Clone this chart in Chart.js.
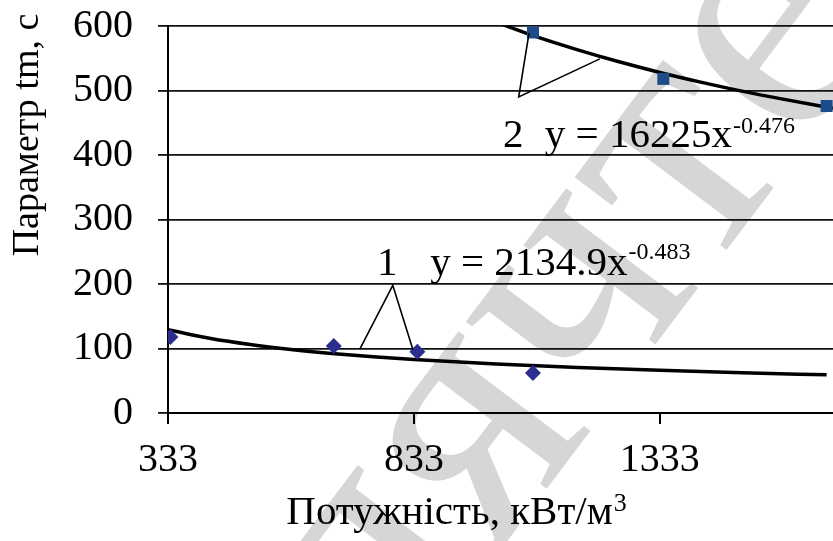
<!DOCTYPE html>
<html>
<head>
<meta charset="utf-8">
<script src="https://cdn.jsdelivr.net/npm/chart.js@4.4.1/dist/chart.umd.min.js"></script>
<style>
  html, body { margin: 0; padding: 0; background: #fff; }
</style>
</head>
<body>
<canvas id="chart" width="833" height="541"></canvas>
<script>
const powerSeries1 = [338, 670, 840, 1075];
const timeSeries1 = [118, 104, 95, 62];
const powerSeries2 = [1075, 1340, 1672];
const timeSeries2 = [590, 518, 476];

// Power trend curves
const trend1X = [333, 420, 500, 583, 666, 750, 833, 1000, 1166, 1333, 1500, 1672];
const trend1Y = [129, 115.4, 106.1, 98.5, 92.4, 87.3, 82.9, 75.9, 70.5, 66.1, 62.4, 59.2];
const trend2X = [1000, 1083, 1166, 1250, 1333, 1416, 1500, 1583, 1685];
const trend2Y = [606, 583, 563, 544.5, 528, 513, 499, 486.6, 472.5];

const xTicks = [333, 833, 1333];
const yTicks = [0, 100, 200, 300, 400, 500, 600];

const xTitle = 'Потужність, кВт/м';
const xTitleSup = '3';
const yTitle = 'Параметр tm, с';
const eq1 = { label: '1', main: 'y = 2134.9x', sup: '-0.483' };
const eq2 = { label: '2', main: 'y = 16225x', sup: '-0.476' };
const watermark = ['только для', 'чтения'];

const FONT = '"Liberation Serif", "Times New Roman", serif';
const tickFont = { family: FONT, size: 40 };

function toPoints(xs, ys) {
    return xs.map((x, i) => ({ x: x, y: ys[i] }));
}

function supText(ctx, x, y, main, sup, size, supSize, rise, align) {
    ctx.font = size + 'px ' + FONT;
    const w1 = ctx.measureText(main).width;
    ctx.font = supSize + 'px ' + FONT;
    const w2 = ctx.measureText(sup).width;
    const x0 = align === 'center' ? x - (w1 + w2) / 2 : x;
    ctx.textAlign = 'left';
    ctx.textBaseline = 'alphabetic';
    ctx.font = size + 'px ' + FONT;
    ctx.fillText(main, x0, y);
    ctx.font = supSize + 'px ' + FONT;
    ctx.fillText(sup, x0 + w1 + 1, y - rise);
}

// Grey diagonal stamp behind the chart
const stamp = {
    id: 'stamp',
    beforeDraw(chart) {
        const ctx = chart.ctx;
        ctx.save();
        ctx.fillStyle = '#d6d6d6';
        ctx.font = '360px ' + FONT;
        ctx.textAlign = 'left';
        ctx.textBaseline = 'alphabetic';
        const lead = ctx.measureText(watermark[0]).width;
        const half = ctx.measureText(watermark[1][0]).width / 2;
        ctx.translate(585, 305);
        ctx.rotate(-53 * Math.PI / 180);
        ctx.fillText(watermark[0] + watermark[1], -lead - half, 80);
        ctx.restore();
    }
};

// Labels, leader lines and axis titles
const annotations = {
    id: 'annotations',
    afterDraw(chart) {
        const { ctx, scales: { x, y } } = chart;
        const px = v => x.getPixelForValue(v);
        const py = v => y.getPixelForValue(v);
        ctx.save();
        ctx.fillStyle = '#000';
        ctx.strokeStyle = '#000';
        ctx.lineWidth = 1.6;

        // leader lines for curve 1
        ctx.beginPath();
        ctx.moveTo(px(723), py(99));
        ctx.lineTo(px(790), py(198));
        ctx.lineTo(px(831), py(98));
        ctx.stroke();

        // leader lines for curve 2
        ctx.beginPath();
        ctx.moveTo(px(1067), py(589));
        ctx.lineTo(px(1046), py(490));
        ctx.lineTo(px(1211), py(549));
        ctx.stroke();

        // equation labels
        ctx.textAlign = 'left';
        ctx.textBaseline = 'alphabetic';
        ctx.font = '41px ' + FONT;
        ctx.fillText(eq1.label, px(758), py(214));
        supText(ctx, px(866), py(214), eq1.main, eq1.sup, 41, 24, 16, 'left');
        ctx.font = '41px ' + FONT;
        ctx.fillText(eq2.label, px(1014), py(412));
        supText(ctx, px(1099), py(412), eq2.main, eq2.sup, 41, 24, 14, 'left');

        // x title
        supText(ctx, 456, 524, xTitle, xTitleSup, 41, 26, 13, 'center');

        // y title
        ctx.translate(38, 135);
        ctx.rotate(-Math.PI / 2);
        ctx.font = '38px ' + FONT;
        ctx.textAlign = 'center';
        ctx.textBaseline = 'alphabetic';
        ctx.fillText(yTitle, 0, 0);
        ctx.restore();
    }
};

function drawChart() {
    const ctx = document.getElementById('chart').getContext('2d');
    new Chart(ctx, {
        type: 'scatter',
        data: {
            datasets: [
                {
                    label: 'series 1',
                    data: toPoints(powerSeries1, timeSeries1),
                    pointStyle: 'rectRot',
                    pointRadius: 8,
                    backgroundColor: '#2b2e8f',
                    borderColor: '#2b2e8f',
                    borderWidth: 0
                },
                {
                    label: 'series 2',
                    data: toPoints(powerSeries2, timeSeries2),
                    pointStyle: 'rect',
                    pointRadius: 8.5,
                    backgroundColor: '#1c4c8a',
                    borderColor: '#1c4c8a',
                    borderWidth: 0
                },
                {
                    label: 'trend 1',
                    data: toPoints(trend1X, trend1Y),
                    showLine: true,
                    pointRadius: 0,
                    borderColor: '#000',
                    borderWidth: 3.5,
                    cubicInterpolationMode: 'monotone'
                },
                {
                    label: 'trend 2',
                    data: toPoints(trend2X, trend2Y),
                    showLine: true,
                    pointRadius: 0,
                    borderColor: '#000',
                    borderWidth: 3.5,
                    cubicInterpolationMode: 'monotone'
                }
            ]
        },
        options: {
            responsive: false,
            animation: false,
            devicePixelRatio: 1,
            layout: { padding: 0, autoPadding: false },
            plugins: {
                legend: { display: false },
                tooltip: { enabled: false }
            },
            scales: {
                x: {
                    type: 'linear',
                    min: 333,
                    max: 1685,
                    afterBuildTicks: axis => { axis.ticks = xTicks.map(v => ({ value: v })); },
                    afterFit: axis => {
                        axis.height = 128;
                        axis.paddingLeft = 0;
                        axis.paddingRight = 0;
                    },
                    ticks: {
                        font: tickFont,
                        color: '#000',
                        padding: 12,
                        maxRotation: 0,
                        autoSkip: false,
                        callback: v => String(v)
                    },
                    grid: { drawOnChartArea: false, drawTicks: true, tickLength: 11, color: '#000', lineWidth: 2 },
                    border: { display: true, color: '#000', width: 2 }
                },
                y: {
                    min: 0,
                    max: 600,
                    afterBuildTicks: axis => { axis.ticks = yTicks.map(v => ({ value: v })); },
                    afterFit: axis => {
                        axis.width = 168;
                        axis.paddingTop = 26;
                        axis.paddingBottom = 0;
                    },
                    ticks: {
                        font: tickFont,
                        color: '#000',
                        padding: 25,
                        callback: v => String(v)
                    },
                    grid: { color: '#111', lineWidth: 1.8, drawTicks: true, tickLength: 10 },
                    border: { display: true, color: '#000', width: 2 }
                }
            }
        },
        plugins: [stamp, annotations]
    });
}

// wait for the serif face before drawing on the canvas
Promise.all([
    document.fonts.load('40px "Liberation Serif"', 'Параметр 0123'),
    document.fonts.load('24px "Liberation Serif"', '0123')
]).then(drawChart, drawChart);
</script>
</body>
</html>
